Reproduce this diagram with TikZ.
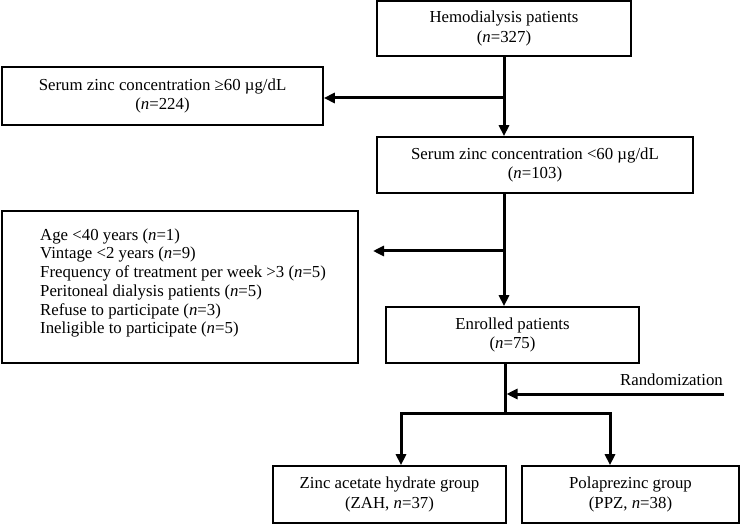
\documentclass[tikz,border=0pt]{standalone}
\usepackage{fontspec}
\setmainfont{Liberation Serif}
\usetikzlibrary{arrows.meta}
\begin{document}
\begin{tikzpicture}[x=1pt,y=-1pt,
  box/.style={draw, line width=1.6pt, inner sep=0pt, align=center,
    font=\fontsize{16.8}{19.8}\selectfont},
  txt/.style={inner sep=0pt, font=\fontsize{16.8}{18.7}\selectfont},
  ln/.style={line width=3pt},
  arr/.style={line width=3pt, -{Triangle[length=11pt,width=10pt]}}]
\useasboundingbox (0,0) rectangle (740,524);
\node[box, minimum width=254pt, minimum height=55pt] (b1) at (504,28.5)
  {Hemodialysis patients\\(\textit{n}=327)};
\node[box, minimum width=321pt, minimum height=58pt] (b2) at (162.5,96)
  {Serum zinc concentration ≥60 µg/dL\\(\textit{n}=224)};
\node[box, minimum width=316pt, minimum height=56pt] (b3) at (535,165)
  {Serum zinc concentration <60 µg/dL\\(\textit{n}=103)};
\node[box, minimum width=356pt, minimum height=152pt] (b4) at (180,287) {};
\node[txt, align=left, anchor=west] (t4) at (40,283)
  {Age <40 years (\textit{n}=1)\\
   Vintage <2 years (\textit{n}=9)\\
   Frequency of treatment per week >3 (\textit{n}=5)\\
   Peritoneal dialysis patients (\textit{n}=5)\\
   Refuse to participate (\textit{n}=3)\\
   Ineligible to participate (\textit{n}=5)};
\node[box, minimum width=253pt, minimum height=56pt] (b5) at (512.5,335)
  {Enrolled patients\\(\textit{n}=75)};
\node[box, minimum width=233pt, minimum height=57pt] (b6) at (389.5,494.5)
  {Zinc acetate hydrate group\\(ZAH, \textit{n}=37)};
\node[box, minimum width=217pt, minimum height=57pt] (b7) at (630.5,494.5)
  {Polaprezinc group\\(PPZ, \textit{n}=38)};
\node[txt, anchor=east] (rl) at (723,380) {Randomization};
% spine
\coordinate (sp) at (504,0);
\coordinate (j1) at (504,98);
\coordinate (j2) at (504,251);
\coordinate (e2) at (373,251);
\draw[arr] (b1.south -| sp) -- (b3.north -| sp);
\draw[arr] (j1) -- (b2.east |- j1);
\draw[arr] (b3.south -| sp) -- (b5.north -| sp);
\draw[arr] (j2) -- (e2);
% randomization
\coordinate (j3) at (505,413);
\coordinate (l3) at (401,413);
\coordinate (r3) at (610,413);
\coordinate (rz) at (724,394);
\draw[ln] (b5.south -| j3) -- (j3);
\draw[arr, shorten >=1.5pt] (rz) -- (rz -| j3);
\draw[arr] (j3) -- (l3) -- (l3 |- b6.north);
\draw[arr] (j3) -- (r3) -- (r3 |- b7.north);
\end{tikzpicture}
\end{document}
